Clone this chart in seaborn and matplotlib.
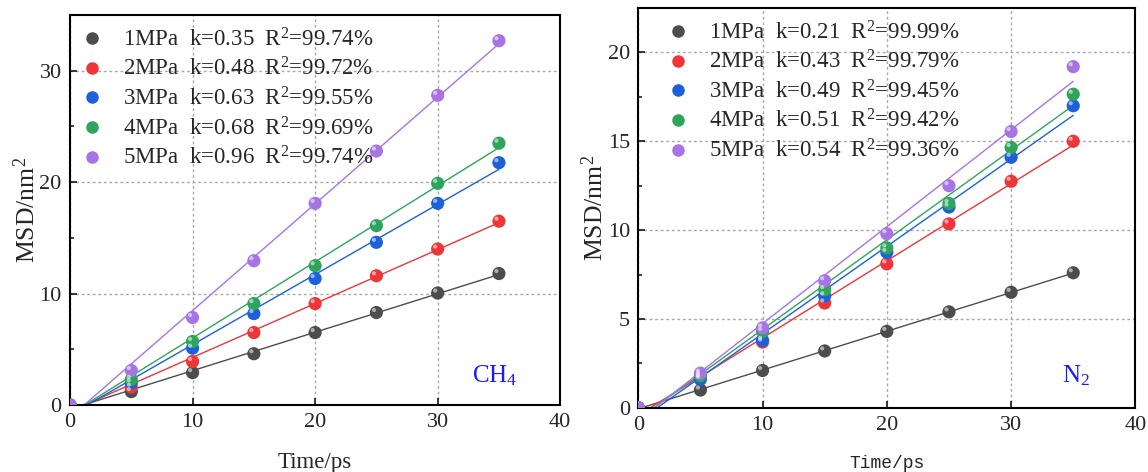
import numpy as np
import pandas as pd
import matplotlib
matplotlib.use("Agg")
import matplotlib.pyplot as plt
import matplotlib.transforms as mtrans
import seaborn as sns

# ---- data ----
time_ps = [0, 5, 10, 15, 20, 25, 30, 35]
pressures = ["1MPa", "2MPa", "3MPa", "4MPa", "5MPa"]

ch4_1 = [0, 1.2, 2.9, 4.6, 6.5, 8.3, 10.05, 11.8]
ch4_2 = [0, 1.6, 3.9, 6.5, 9.1, 11.6, 14.0, 16.5]
ch4_3 = [0, 2.0, 5.1, 8.2, 11.35, 14.6, 18.1, 21.75]
ch4_4 = [0, 2.3, 5.7, 9.1, 12.5, 16.1, 19.9, 23.5]
ch4_5 = [0, 3.1, 7.85, 12.95, 18.1, 22.8, 27.8, 32.7]
ch4_k = ["0.35", "0.48", "0.63", "0.68", "0.96"]
ch4_r2 = ["99.74", "99.72", "99.55", "99.69", "99.74"]

n2_1 = [0, 1.0, 2.1, 3.2, 4.3, 5.4, 6.5, 7.6]
n2_2 = [0, 1.7, 3.7, 5.9, 8.1, 10.35, 12.75, 15.0]
n2_3 = [0, 1.6, 3.8, 6.3, 8.75, 11.3, 14.1, 17.0]
n2_4 = [0, 1.8, 4.3, 6.65, 9.0, 11.5, 14.65, 17.65]
n2_5 = [0, 1.95, 4.5, 7.15, 9.8, 12.5, 15.55, 19.2]
n2_k = ["0.21", "0.43", "0.49", "0.51", "0.54"]
n2_r2 = ["99.99", "99.79", "99.45", "99.42", "99.36"]

colors = ["#4d4d4d", "#ee3538", "#1c60dc", "#2ea55c", "#a775e3"]

sns.set_theme(style="ticks")
plt.rcParams["font.family"] = ["Liberation Serif", "DejaVu Serif"]
plt.rcParams["mathtext.fontset"] = "custom"
plt.rcParams["mathtext.rm"] = "Liberation Serif"
plt.rcParams["mathtext.it"] = "Liberation Serif:italic"


def make_df(series):
    rows = []
    for p, vals in zip(pressures, series):
        for t, v in zip(time_ps, vals):
            rows.append({"t": t, "msd": v, "p": p})
    return pd.DataFrame(rows)


def panel(ax, series, ks, r2s, ymax, ystep, gas_label, gas_pos, xlab_font,
          xlab_size, leg_x):
    df = make_df(series)
    # fitted lines
    xx = np.array([0, 35])
    for vals, c in zip(series, colors):
        slope, icpt = np.polyfit(time_ps, vals, 1)
        ax.plot(xx, slope * xx + icpt, color=c, lw=1.0, zorder=2)
    sns.scatterplot(data=df, x="t", y="msd", hue="p", palette=colors,
                    s=90, edgecolor="none", ax=ax, legend=False, zorder=3)
    # little highlight on the balls
    off = mtrans.offset_copy(ax.transData, fig=ax.figure, x=-1.8, y=1.8, units="points")
    ax.scatter(df["t"], df["msd"], s=9, color="white", alpha=0.55,
               edgecolor="none", transform=off, zorder=4)

    handles = [plt.Line2D([], [], ls="none", marker="o", ms=8, color=c) for c in colors]
    labels = [f"{p}  k={k}  $\\mathregular{{R^2}}$={r}%" for p, k, r in zip(pressures, ks, r2s)]
    ax.legend(handles, labels, loc="upper left", frameon=False, fontsize=16.5,
              handletextpad=0.55, labelspacing=0.28, borderaxespad=0.25,
              handlelength=1.6, bbox_to_anchor=(leg_x, 1.005))

    ax.set_xlim(0, 40)
    ax.set_ylim(0, ymax)
    ax.set_xticks([0, 10, 20, 30, 40])
    ax.set_yticks(np.arange(0, ymax, ystep))
    ax.set_yticks(np.arange(ystep / 2, ymax, ystep), minor=True)
    ax.grid(True, which="major", ls=(0, (2, 2)), color="#a8a8a8", lw=1.0)
    ax.tick_params(direction="in", which="major", length=5, width=1.3,
                   labelsize=16, pad=6)
    ax.tick_params(direction="in", which="minor", length=3, width=1.2,
                   bottom=False)
    for s in ax.spines.values():
        s.set_linewidth(1.5)
        s.set_color("black")
    ax.set_xlabel("Time/ps", fontsize=xlab_size, family=xlab_font, labelpad=14)
    ax.set_ylabel("MSD/nm$\\mathregular{^2}$", fontsize=18.5, labelpad=0)
    ax.text(gas_pos[0], gas_pos[1], gas_label, transform=ax.transAxes,
            color="#1a1aff", fontsize=18, ha="center", va="center")


fig = plt.figure(figsize=(11.48, 4.72), dpi=100)
ax1 = fig.add_axes([0.061, 0.142, 0.427, 0.826])
ax2 = fig.add_axes([0.556, 0.136, 0.433, 0.847])

panel(ax1, [ch4_1, ch4_2, ch4_3, ch4_4, ch4_5], ch4_k, ch4_r2, 35, 10,
      "CH$\\mathregular{_4}$", (0.866, 0.075), ["Liberation Serif"], 16.5, -0.023)
panel(ax2, [n2_1, n2_2, n2_3, n2_4, n2_5], n2_k, n2_r2, 22.5, 5,
      "N$\\mathregular{_2}$", (0.88, 0.08), ["Liberation Mono"], 13, 0.014)

fig.savefig("out.png", dpi=100)
